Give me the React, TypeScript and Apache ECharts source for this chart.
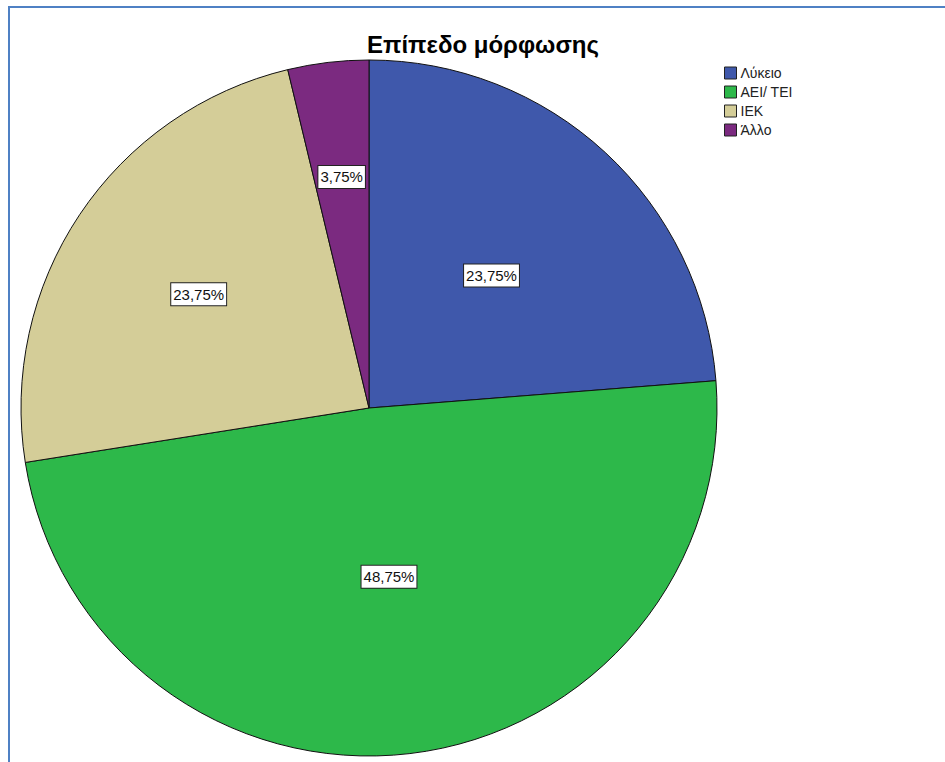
import React, { useEffect, useRef } from "react";
import * as echarts from "echarts";

const categories = ["Λύκειο", "ΑΕΙ/ ΤΕΙ", "ΙΕΚ", "Άλλο"];
const counts = [19, 39, 19, 3];
const colors = ["#3f58ab", "#2db84a", "#d4cd98", "#7b2a80"];
const title = "Επίπεδο μόρφωσης";

// radial position of each label as a fraction of the radius (style)
const labelRadiusFrac = [0.51, 0.48, 0.58, 0.66];

export default function App() {
  const ref = useRef<HTMLDivElement>(null);
  useEffect(() => {
    if (!ref.current) return;
    const chart = echarts.init(ref.current, null, { renderer: "svg" });
    const R = 348;
    const total = counts.reduce((a, b) => a + b, 0);
    let cum = 0;
    const data = categories.map((name, i) => {
      const frac = counts[i] / total;
      const midDeg = 90 - (cum + frac / 2) * 360;
      cum += frac;
      const a = (midDeg * Math.PI) / 180;
      const d = (labelRadiusFrac[i] - 0.5) * R;
      return {
        name,
        value: counts[i],
        itemStyle: { color: colors[i] },
        label: { offset: [d * Math.cos(a), -d * Math.sin(a)] },
      };
    });
    const font = "'Liberation Sans', Arial, sans-serif";
    chart.setOption({
      animation: false,
      backgroundColor: "#ffffff",
      title: {
        text: title,
        left: 478,
        top: 27,
        textAlign: "center",
        textStyle: { fontFamily: font, fontSize: 24, fontWeight: "bold", color: "#000" },
      },
      legend: {
        orient: "vertical",
        left: 719,
        top: 61,
        icon: "rect",
        itemWidth: 12,
        itemHeight: 12,
        itemGap: 5,
        data: categories,
        textStyle: { fontFamily: font, fontSize: 14, color: "#222", padding: [0, 0, 0, -1] },
        itemStyle: { borderColor: "#222", borderWidth: 1 },
      },
      graphic: [
        { type: "line", shape: { x1: 8, y1: 7, x2: 945, y2: 7 }, style: { stroke: "#4f81c4", lineWidth: 2 } },
        { type: "line", shape: { x1: 9, y1: 6, x2: 9, y2: 762 }, style: { stroke: "#4f81c4", lineWidth: 2 } },
      ],
      series: [
        {
          type: "pie",
          center: [369, 408],
          radius: R,
          startAngle: 90,
          clockwise: true,
          data,
          itemStyle: { borderColor: "#111", borderWidth: 1 },
          emphasis: { disabled: true },
          label: {
            show: true,
            position: "inside",
            formatter: (p: any) => ((p.value / total) * 100).toFixed(2).replace(".", ",") + "%",
            fontFamily: font,
            fontSize: 15,
            color: "#111",
            backgroundColor: "#ffffff",
            borderColor: "#222",
            borderWidth: 1,
            padding: [4, 2, 3, 2],
          },
          labelLine: { show: false },
        },
      ],
    });
    return () => chart.dispose();
  }, []);
  return (
    <div
      ref={ref}
      style={{ position: "fixed", left: 0, top: 0, width: 945, height: 762 }}
    />
  );
}
